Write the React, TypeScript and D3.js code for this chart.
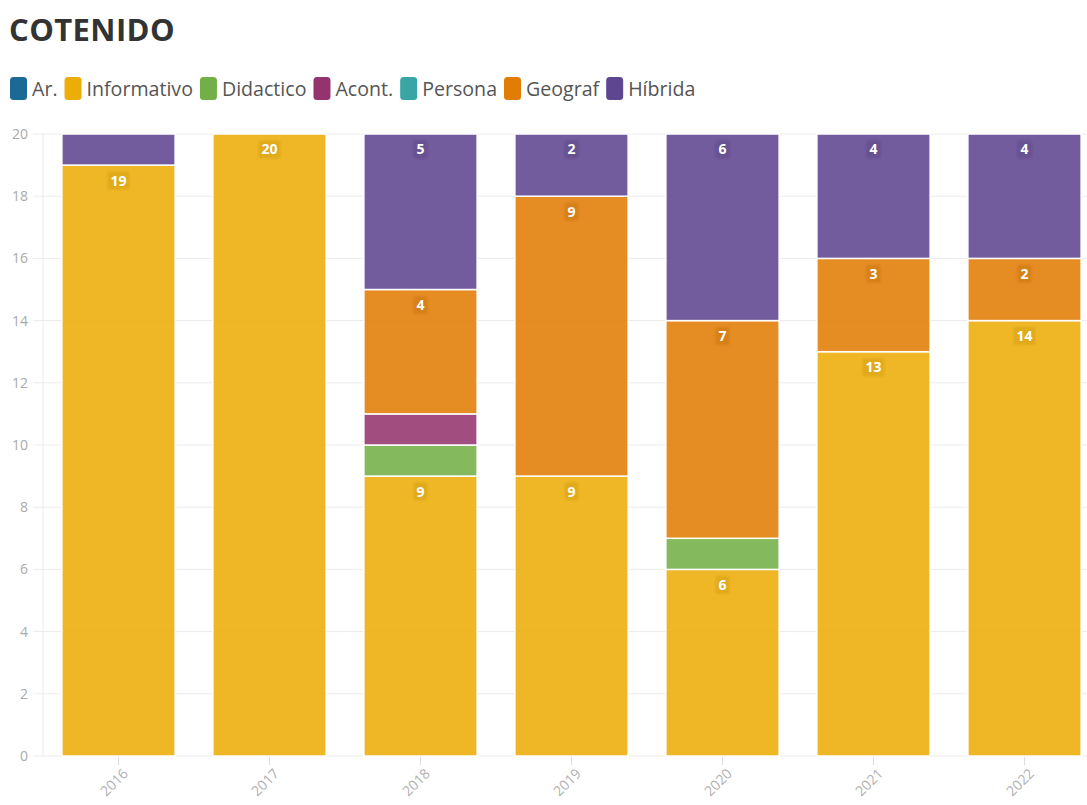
import React from "react";
import * as d3 from "d3";

const years = ["2016", "2017", "2018", "2019", "2020", "2021", "2022"];
const seriesNames = ["Ar.", "Informativo", "Didactico", "Acont.", "Persona", "Geograf", "Híbrida"];
const seriesColors = ["#1D6996", "#EDAD08", "#73AF48", "#94346E", "#38A6A5", "#E17C05", "#5F4690"];
const arValues = [0, 0, 0, 0, 0, 0, 0];
const informativoValues = [19, 20, 9, 9, 6, 13, 14];
const didacticoValues = [0, 0, 1, 0, 1, 0, 0];
const acontValues = [0, 0, 1, 0, 0, 0, 0];
const personaValues = [0, 0, 0, 0, 0, 0, 0];
const geografValues = [0, 0, 4, 9, 7, 3, 2];
const hibridaValues = [1, 0, 5, 2, 6, 4, 4];
const yTicks = [0, 2, 4, 6, 8, 10, 12, 14, 16, 18, 20];

const allValues = [arValues, informativoValues, didacticoValues, acontValues, personaValues, geografValues, hibridaValues];

const FONT = "'Open Sans', 'Noto Sans', sans-serif";

function measure(text: string, font: string): number {
  const c = document.createElement("canvas").getContext("2d")!;
  c.font = font;
  return c.measureText(text).width;
}

export default function App() {
  const W = 1087;
  const H = 805;
  const x = d3.scaleBand<string>().domain(years).range([43, 1100]).paddingInner(0.25).paddingOuter(0.125);
  const y = d3.scaleLinear().domain([0, 20]).range([756, 134]);

  const table = years.map((yr, i) => {
    const row: any = { year: yr };
    seriesNames.forEach((s, k) => (row[s] = allValues[k][i]));
    return row;
  });
  const stacked = d3.stack<any>().keys(seriesNames)(table);

  const legendFontSize = 19.6;
  const legendFont = `${legendFontSize}px ${FONT}`;
  let lx = 10;
  const legendItems = seriesNames.map((s, k) => {
    const w = measure(s, legendFont);
    const item = { s, color: seriesColors[k], x: lx, tw: w };
    lx += 17 + 5 + w + 7;
    return item;
  });

  return (
    <div style={{ position: "absolute", left: 0, top: 0 }}>
      <svg width={W} height={H} style={{ display: "block", fontFamily: FONT }}>
        <defs>
          <filter id="soft" x="-30%" y="-30%" width="160%" height="160%">
            <feGaussianBlur stdDeviation="1.2" />
          </filter>
        </defs>
        <rect width={W} height={H} fill="#fff" />
        <text x={9} y={41} fontSize={31} fontWeight={700} fill="#333" letterSpacing={0.4}>
          COTENIDO
        </text>
        {legendItems.map((it) => (
          <g key={it.s}>
            <rect x={it.x} y={77} width={17} height={23} rx={3.5} fill={it.color} />
            <text x={it.x + 22} y={96} fontSize={legendFontSize} fill="#555">
              {it.s}
            </text>
          </g>
        ))}
        {yTicks.map((t) => (
          <g key={t}>
            <line x1={33} x2={W} y1={y(t)} y2={y(t)} stroke="#ebebeb" strokeWidth={1} />
            <text x={28} y={y(t)} dy="0.35em" textAnchor="end" fontSize={14} fill="#aaa">
              {t}
            </text>
          </g>
        ))}
        <line x1={43} x2={43} y1={134} y2={756} stroke="#ebebeb" />
        {years.map((yr) => {
          const cx = (x(yr) as number) + x.bandwidth() / 2;
          return (
            <g key={yr}>
              <line x1={cx} x2={cx} y1={756} y2={765} stroke="#ddd" />
              <text
                transform={`translate(${cx + 7},${771}) rotate(-45)`}
                textAnchor="end"
                dy="0.35em"
                fontSize={14}
                fill="#b0b0b0"
              >
                {yr}
              </text>
            </g>
          );
        })}
        {stacked.map((layer, k) => (
          <g key={layer.key}>
            {layer.map((d, i) => {
              if (d[1] - d[0] <= 0) return null;
              const x0 = x(years[i]) as number;
              return (
                <rect
                  key={i}
                  x={x0}
                  y={y(d[1])}
                  width={x.bandwidth()}
                  height={y(d[0]) - y(d[1])}
                  fill={seriesColors[k]}
                  fillOpacity={0.88}
                  stroke="#fff"
                  strokeWidth={1.5}
                />
              );
            })}
          </g>
        ))}
        {stacked.map((layer, k) => (
          <g key={"l" + layer.key}>
            {layer.map((d, i) => {
              const v = d[1] - d[0];
              if (v < 2) return null;
              const cx = (x(years[i]) as number) + x.bandwidth() / 2;
              const ty = y(d[1]) + 15.5;
              const label = String(v);
              const tw = measure(label, `700 14px ${FONT}`);
              return (
                <g key={i}>
                  <rect
                    x={cx - tw / 2 - 3}
                    y={ty - 9}
                    width={tw + 6}
                    height={18}
                    rx={2}
                    fill={d3.color(seriesColors[k])!.darker(0.6).toString()}
                    fillOpacity={0.3}
                    filter="url(#soft)"
                  />
                  <text x={cx} y={ty} dy="0.35em" textAnchor="middle" fontSize={14} fontWeight={700} fill="#fff">
                    {label}
                  </text>
                </g>
              );
            })}
          </g>
        ))}
      </svg>
    </div>
  );
}
